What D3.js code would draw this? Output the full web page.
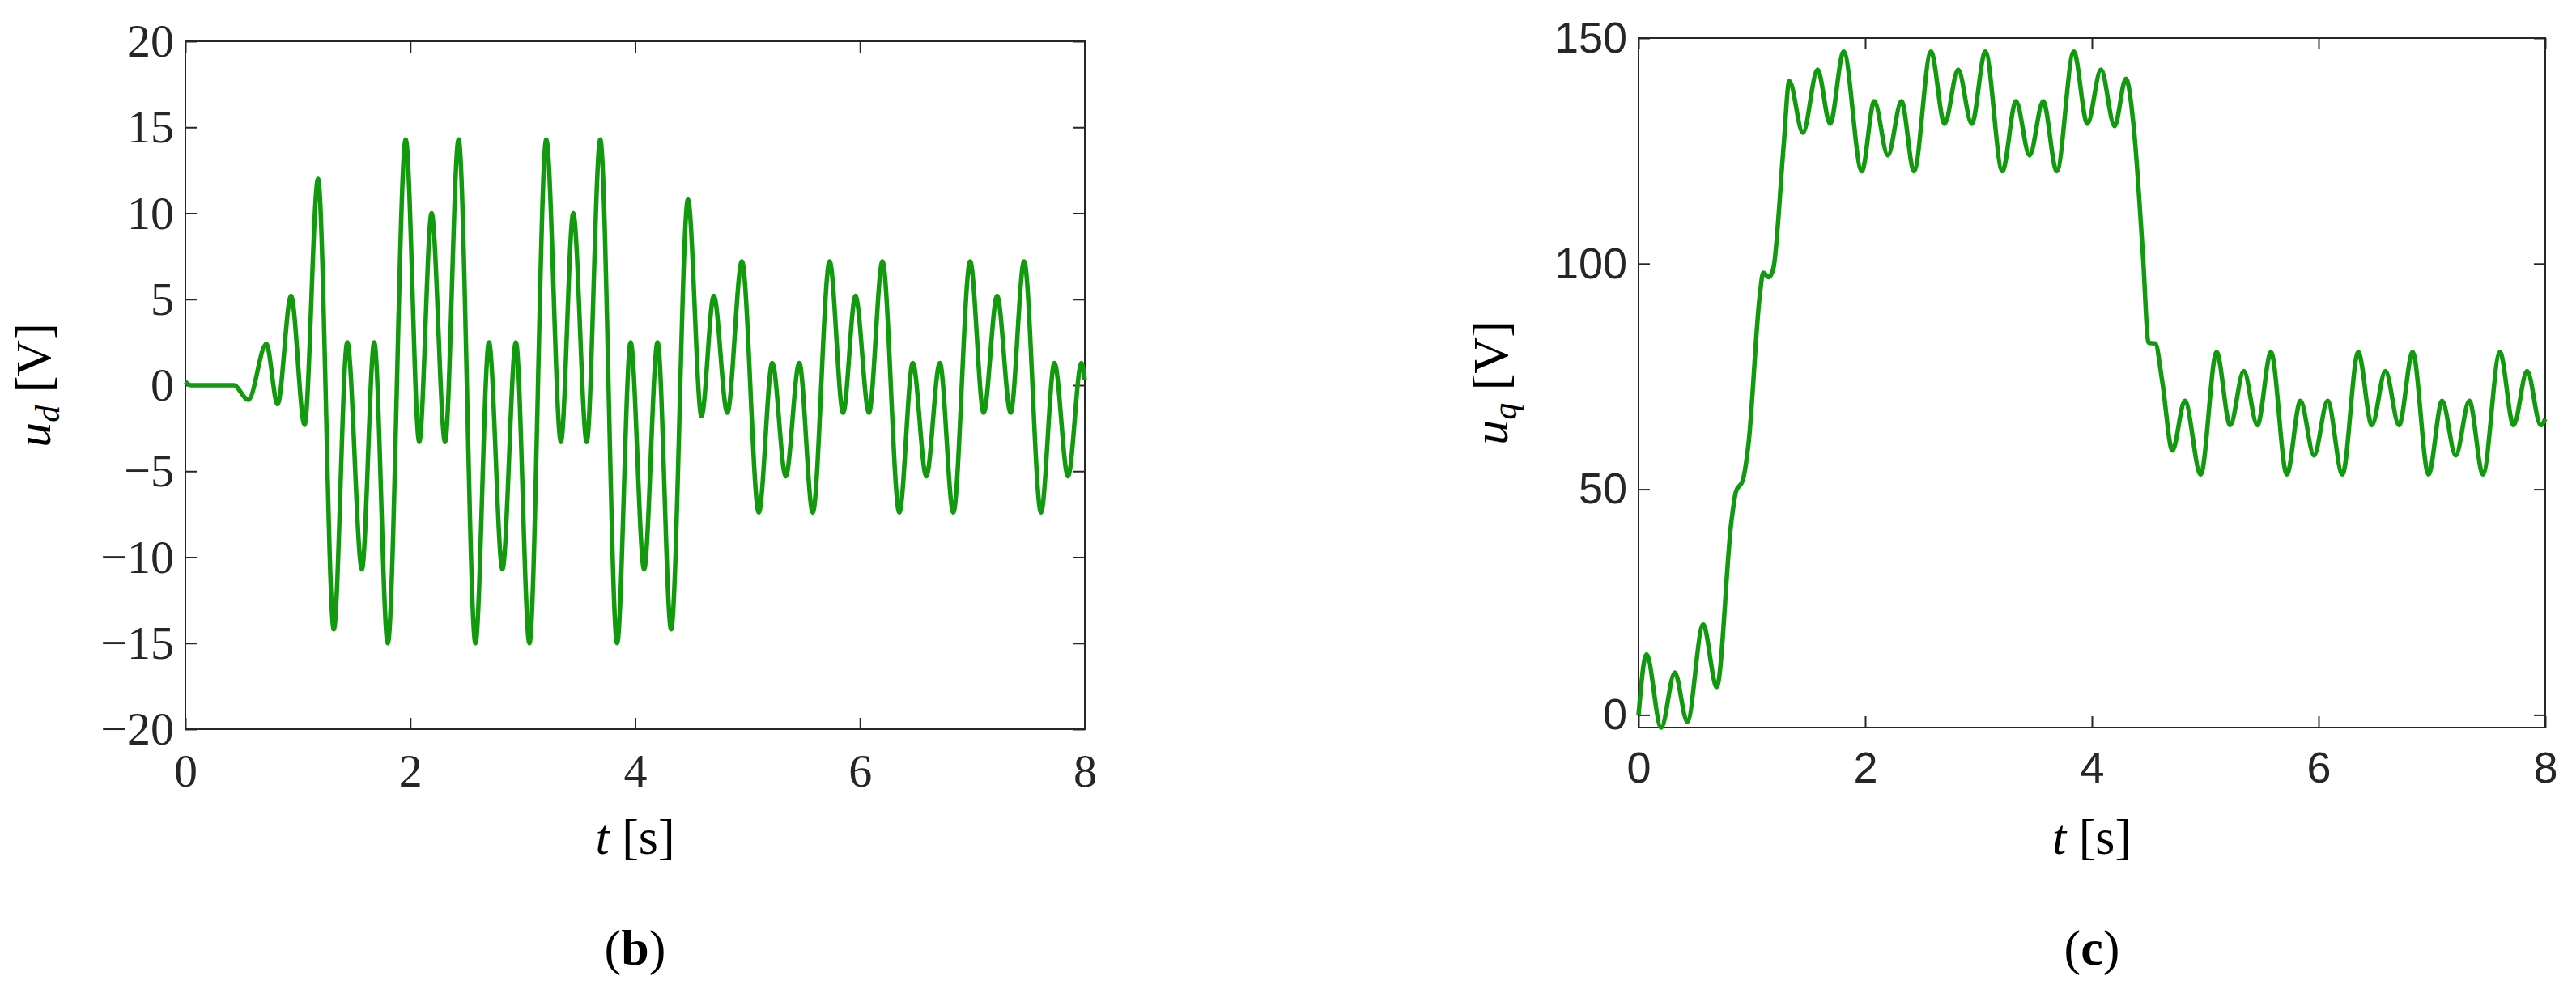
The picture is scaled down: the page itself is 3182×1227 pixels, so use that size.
<!DOCTYPE html>
<html><head><meta charset="utf-8">
<script src="https://cdn.jsdelivr.net/npm/d3@7"></script>
<style>body{margin:0;background:#fff}</style></head>
<body><svg id="c" width="3182" height="1227"></svg>
<script>
const udT=[0,0.05,0.43,0.56,0.72,0.82,0.94,1.06,1.18,1.32,1.44,1.57,1.68,1.80,1.96,2.08,2.19,2.31,2.43,2.58,2.70,2.82,2.94,3.06,3.21,3.34,3.45,3.57,3.69,3.84,3.96,4.08,4.20,4.32,4.47,4.59,4.70,4.82,4.95,5.10,5.22,5.34,5.46,5.58,5.73,5.85,5.96,6.08,6.20,6.35,6.47,6.59,6.71,6.83,6.98,7.10,7.22,7.34,7.46,7.61,7.73,7.85,7.97,8.0];
const udV=[0.2,0,0,-0.85,2.4,-1.1,5.2,-2.3,12,-14.2,2.5,-10.7,2.5,-15,14.3,-3.3,10,-3.3,14.3,-15,2.5,-10.7,2.5,-15,14.3,-3.3,10,-3.3,14.3,-15,2.5,-10.7,2.5,-14.2,10.8,-1.8,5.2,-1.6,7.2,-7.4,1.3,-5.3,1.3,-7.4,7.2,-1.6,5.2,-1.6,7.2,-7.4,1.3,-5.3,1.3,-7.4,7.2,-1.6,5.2,-1.6,7.2,-7.4,1.3,-5.3,1.3,0.3];
const uqT=[0,0.07,0.2,0.32,0.43,0.57,0.69,0.82,0.86,0.92,0.97,1.07,1.10,1.15,1.19,1.28,1.33,1.45,1.58,1.69,1.81,1.97,2.08,2.20,2.32,2.43,2.58,2.70,2.82,2.94,3.06,3.21,3.33,3.45,3.57,3.69,3.84,3.96,4.08,4.20,4.30,4.37,4.45,4.50,4.56,4.62,4.71,4.82,4.96,5.10,5.22,5.34,5.46,5.58,5.72,5.84,5.96,6.08,6.21,6.35,6.47,6.59,6.71,6.83,6.97,7.09,7.21,7.33,7.45,7.60,7.72,7.84,7.96,8.0];
const uqV=[0,13.4,-2.8,9.4,-1.5,20,6.2,43,49.5,52,60,93,98,97,99,126,140.5,129,143,131,147,120.5,136,124,136,120.5,147,131,143,131,147,120.5,136,124,136,120.5,147,131,143,130.5,141,130,102,82.5,82.3,74,58.6,69.6,53.3,80.4,64.2,76.2,64.2,80.4,53.3,69.6,57.5,69.6,53.3,80.4,64.2,76.2,64.2,80.4,53.3,69.6,57.5,69.6,53.3,80.4,64.2,76.2,64.2,65.6];
const xTicks=[0,2,4,6,8];
const udTicks=[-20,-15,-10,-5,0,5,10,15,20];
const uqTicks=[0,50,100,150];

const svg=d3.select("#c");
const green="#119a0d", ink="#262626";
function panel(o){
  const g=svg.append("g");
  const x=d3.scaleLinear().domain([0,8]).range([o.x0,o.x1]);
  const y=d3.scaleLinear().domain(o.yd).range([o.y1,o.y0]);
  const tl=14;
  const ax=(a,tr)=>g.append("g").attr("transform",tr).call(a)
    .call(s=>{s.select(".domain").remove();s.selectAll("line").attr("stroke",ink).attr("stroke-width",2);
      s.selectAll("text").attr("fill",ink).attr("font-family",o.font).attr("font-size",o.fs);});
  ax(d3.axisBottom(x).tickValues(xTicks).tickSize(-tl).tickPadding(30).tickFormat(d=>d),`translate(0,${o.y1})`);
  ax(d3.axisTop(x).tickValues(xTicks).tickSize(-tl).tickFormat(""),`translate(0,${o.y0})`);
  ax(d3.axisLeft(y).tickValues(o.ticks).tickSize(-tl).tickPadding(14).tickFormat(d=>d<0?"\u2212"+(-d):d),`translate(${o.x0},0)`);
  ax(d3.axisRight(y).tickValues(o.ticks).tickSize(-tl).tickFormat(""),`translate(${o.x1},0)`);
  g.append("rect").attr("x",o.x0).attr("y",o.y0).attr("width",o.x1-o.x0).attr("height",o.y1-o.y0)
    .attr("fill","none").attr("stroke",ink).attr("stroke-width",2);
  const pts=o.t.map((t,i)=>[t,o.v[i]]);
  g.append("path").datum(pts).attr("fill","none").attr("stroke",green).attr("stroke-width",5.5)
    .attr("d",d3.line().x(d=>x(d[0])).y(d=>y(d[1])).curve(d3.curveMonotoneX));
  const yl=g.append("text").attr("transform",`translate(${o.ylx},${(o.y0+o.y1)/2}) rotate(-90)`)
    .attr("text-anchor","middle").attr("font-family","Liberation Serif").attr("font-size",62).attr("fill","#000");
  yl.append("tspan").attr("font-style","italic").text("u");
  yl.append("tspan").attr("font-style","italic").attr("font-size",42).attr("dy",11).text(o.sub);
  yl.append("tspan").attr("dy",-11).text(" [V]");
  const xl=g.append("text").attr("x",(o.x0+o.x1)/2).attr("y",1055).attr("text-anchor","middle")
    .attr("font-family","Liberation Serif").attr("font-size",62).attr("fill","#000");
  xl.append("tspan").attr("font-style","italic").text("t");
  xl.append("tspan").text(" [s]");
  g.append("text").attr("x",(o.x0+o.x1)/2).attr("y",1192).attr("text-anchor","middle")
    .attr("font-family","Liberation Serif").attr("font-size",62).attr("fill","#000")
    .html(`(<tspan font-weight="bold">${o.tag}</tspan>)`);
}
panel({x0:229,x1:1340,y0:51,y1:901,yd:[-20,20],ticks:udTicks,t:udT,v:udV,font:"Liberation Serif",fs:58,ylx:62,sub:"d",tag:"b"});
panel({x0:2024,x1:3144,y0:47,y1:899,yd:[-2.8,150],ticks:uqTicks,t:uqT,v:uqV,font:"Liberation Sans",fs:54,ylx:1862,sub:"q",tag:"c"});
</script></body></html>
